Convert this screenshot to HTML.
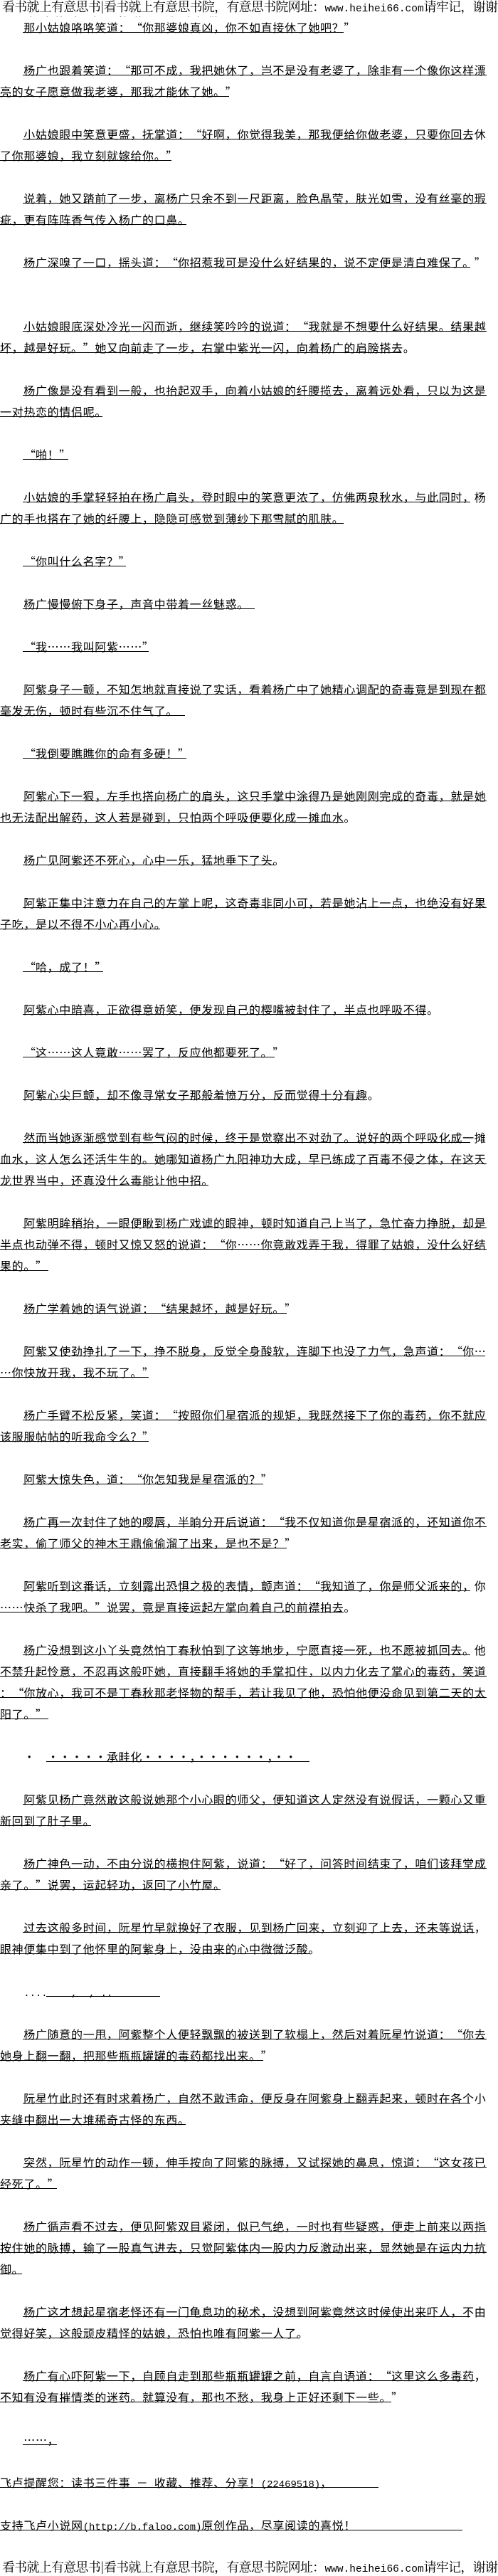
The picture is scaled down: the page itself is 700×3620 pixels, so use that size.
<!DOCTYPE html>
<html lang="zh"><head><meta charset="utf-8"><style>
html,body{margin:0;padding:0;background:#fff}
body{width:700px;height:3620px;position:relative;overflow:hidden;color:#000;font-family:"WenQuanYi Zen Hei","Noto Sans CJK SC",sans-serif;font-size:16px;letter-spacing:.67px}
p{position:absolute;left:0;width:700px;margin:-17px 0 0;height:20px;line-height:20px;white-space:pre;overflow:visible}
p i{position:absolute;left:0;top:17px;height:1px;background:#000}
p.n{padding-left:33.3px;width:666.7px}
p.n i{background:linear-gradient(90deg,transparent 32px,#000 32px)}
s,u{display:inline-block;width:16.67px;text-decoration:none;letter-spacing:0;line-height:20px;height:20px;vertical-align:top}
s{text-align:right}
u{text-align:left}
tt{font-family:"Liberation Mono",monospace;font-size:13.9px;letter-spacing:0}
.h{position:absolute;left:3px;width:697px;overflow:hidden;height:20px;line-height:20px;white-space:pre;font-family:"Noto Serif CJK SC","WenQuanYi Zen Hei",serif;font-size:18px;letter-spacing:-.75px}
.h b{font-weight:400;font-family:"Liberation Mono",monospace;font-size:14.5px;letter-spacing:0}
.c{position:absolute;left:40px;top:22px;height:2px;width:300px;overflow:hidden;white-space:pre;line-height:20px}
.c span{position:relative;top:-2px;letter-spacing:2px}
</style></head><body>
<div class="h" style="top:-1px">看书就上有意思书|看书就上有意思书院，有意思书院网址：<b>www.heihei66.com</b>请牢记，谢谢</div>
<div class="c"><span>杨广的手一扬，笑道，不如这般做吧</span></div>
<p class="n" style="top:45px"><i style="width:483px"></i>那小姑娘咯咯笑道：<s>“</s>你那婆娘真凶，你不如直接休了她吧？<u>”</u></p>
<p class="n" style="top:105px"><i style="width:684px"></i>杨广也跟着笑道：<s>“</s>那可不成，我把她休了，岂不是没有老婆了，除非有一个像你这样漂</p>
<p style="top:135px"><i style="width:322px"></i>亮的女子愿意做我老婆，那我才能休了她。<u>”</u></p>
<p class="n" style="top:195px"><i style="width:663px"></i>小姑娘眼中笑意更盛，抚掌道：<s>“</s>好啊，你觉得我美，那我便给你做老婆，只要你回去休</p>
<p style="top:225px"><i style="width:241px"></i>了你那婆娘，我立刻就嫁给你。<u>”</u></p>
<p class="n" style="top:285px"><i style="width:684px"></i>说着，她又踏前了一步，离杨广只余不到一尺距离，脸色晶莹，肤光如雪，没有丝毫的瑕</p>
<p style="top:315px"><i style="width:262px"></i>疵，更有阵阵香气传入杨广的口鼻。</p>
<p class="n" style="top:375px"><i style="width:661px"></i>杨广深嗅了一口，摇头道：<s>“</s>你招惹我可是没什么好结果的，说不定便是清白难保了。<u>”</u></p>
<p class="n" style="top:465px"><i style="width:684px"></i>小姑娘眼底深处冷光一闪而逝，继续笑吟吟的说道：<s>“</s>我就是不想要什么好结果。结果越</p>
<p style="top:495px"><i style="width:564px"></i>坏，越是好玩。<u>”</u>她又向前走了一步，右掌中紫光一闪，向着杨广的肩膀搭去。</p>
<p class="n" style="top:555px"><i style="width:684px"></i>杨广像是没有看到一般，也抬起双手，向着小姑娘的纤腰揽去，离着远处看，只以为这是</p>
<p style="top:585px"><i style="width:144px"></i>一对热恋的情侣呢。</p>
<p class="n" style="top:645px"><i style="width:96px"></i><s>“</s>啪！<u>”</u></p>
<p class="n" style="top:705px"><i style="width:661px"></i>小姑娘的手掌轻轻拍在杨广肩头，登时眼中的笑意更浓了，仿佛两泉秋水，与此同时，杨</p>
<p style="top:735px"><i style="width:483px"></i>广的手也搭在了她的纤腰上，隐隐可感觉到薄纱下那雪腻的肌肤。</p>
<p class="n" style="top:795px"><i style="width:177px"></i><s>“</s>你叫什么名字？<u>”</u></p>
<p class="n" style="top:855px"><i style="width:358px"></i>杨广慢慢俯下身子，声音中带着一丝魅惑。</p>
<p class="n" style="top:915px"><i style="width:209px"></i><s>“</s>我……我叫阿紫……<u>”</u></p>
<p class="n" style="top:975px"><i style="width:684px"></i>阿紫身子一颤，不知怎地就直接说了实话，看着杨广中了她精心调配的奇毒竟是到现在都</p>
<p style="top:1005px"><i style="width:260px"></i>毫发无伤，顿时有些沉不住气了。</p>
<p class="n" style="top:1065px"><i style="width:262px"></i><s>“</s>我倒要瞧瞧你的命有多硬！<u>”</u></p>
<p class="n" style="top:1125px"><i style="width:684px"></i>阿紫心下一狠，左手也搭向杨广的肩头，这只手掌中涂得乃是她刚刚完成的奇毒，就是她</p>
<p style="top:1155px"><i style="width:483px"></i>也无法配出解药，这人若是碰到，只怕两个呼吸便要化成一摊血水。</p>
<p class="n" style="top:1215px"><i style="width:385px"></i>杨广见阿紫还不死心，心中一乐，猛地垂下了头。</p>
<p class="n" style="top:1275px"><i style="width:684px"></i>阿紫正集中注意力在自己的左掌上呢，这奇毒非同小可，若是她沾上一点，也绝没有好果</p>
<p style="top:1305px"><i style="width:225px"></i>子吃，是以不得不小心再小心。</p>
<p class="n" style="top:1365px"><i style="width:145px"></i><s>“</s>哈，成了！<u>”</u></p>
<p class="n" style="top:1425px"><i style="width:599px"></i>阿紫心中暗喜，正欲得意娇笑，便发现自己的樱嘴被封住了，半点也呼吸不得。</p>
<p class="n" style="top:1485px"><i style="width:386px"></i><s>“</s>这……这人竟敢……罢了，反应他都要死了。<u>”</u></p>
<p class="n" style="top:1545px"><i style="width:516px"></i>阿紫心尖巨颤，却不像寻常女子那般羞愤万分，反而觉得十分有趣。</p>
<p class="n" style="top:1605px"><i style="width:661px"></i>然而当她逐渐感觉到有些气闷的时候，终于是觉察出不对劲了。说好的两个呼吸化成一摊</p>
<p style="top:1635px"><i style="width:684px"></i>血水，这人怎么还活生生的。她哪知道杨广九阳神功大成，早已练成了百毒不侵之体，在这天</p>
<p style="top:1665px"><i style="width:293px"></i>龙世界当中，还真没什么毒能让他中招。</p>
<p class="n" style="top:1725px"><i style="width:684px"></i>阿紫明眸稍抬，一眼便瞅到杨广戏谑的眼神，顿时知道自己上当了，急忙奋力挣脱，却是</p>
<p style="top:1755px"><i style="width:684px"></i>半点也动弹不得，顿时又惊又怒的说道：<s>“</s>你……你竟敢戏弄于我，得罪了姑娘，没什么好结</p>
<p style="top:1785px"><i style="width:68px"></i>果的。<u>”</u></p>
<p class="n" style="top:1845px"><i style="width:403px"></i>杨广学着她的语气说道：<s>“</s>结果越坏，越是好玩。<u>”</u></p>
<p class="n" style="top:1905px"><i style="width:682px"></i>阿紫又使劲挣扎了一下，挣不脱身，反觉全身酸软，连脚下也没了力气，急声道：<s>“</s>你…</p>
<p style="top:1935px"><i style="width:209px"></i>…你快放开我，我不玩了。<u>”</u></p>
<p class="n" style="top:1995px"><i style="width:684px"></i>杨广手臂不松反紧，笑道：<s>“</s>按照你们星宿派的规矩，我既然接下了你的毒药，你不就应</p>
<p style="top:2025px"><i style="width:209px"></i>该服服帖帖的听我命令么？<u>”</u></p>
<p class="n" style="top:2085px"><i style="width:370px"></i>阿紫大惊失色，道：<s>“</s>你怎知我是星宿派的？<u>”</u></p>
<p class="n" style="top:2145px"><i style="width:684px"></i>杨广再一次封住了她的嘤唇，半晌分开后说道：<s>“</s>我不仅知道你是星宿派的，还知道你不</p>
<p style="top:2175px"><i style="width:403px"></i>老实，偷了师父的神木王鼎偷偷溜了出来，是也不是？<u>”</u></p>
<p class="n" style="top:2235px"><i style="width:661px"></i>阿紫听到这番话，立刻露出恐惧之极的表情，颤声道：<s>“</s>我知道了，你是师父派来的，你</p>
<p style="top:2265px"><i style="width:483px"></i>……快杀了我吧。<u>”</u>说罢，竟是直接运起左掌向着自己的前襟拍去。</p>
<p class="n" style="top:2325px"><i style="width:661px"></i>杨广没想到这小丫头竟然怕丁春秋怕到了这等地步，宁愿直接一死，也不愿被抓回去。他</p>
<p style="top:2355px"><i style="width:684px"></i>不禁升起怜意，不忍再这般吓她，直接翻手将她的手掌扣住，以内力化去了掌心的毒药，笑道</p>
<p style="top:2385px"><i style="width:684px"></i>：<s>“</s>你放心，我可不是丁春秋那老怪物的帮手，若让我见了他，恐怕他便没命见到第二天的太</p>
<p style="top:2415px"><i style="width:68px"></i>阳了。<u>”</u></p>
<p class="n" style="top:2475px"><i style="width:435px;background:linear-gradient(90deg,transparent 65px,#000 65px)"></i>・　・・・・・承畦化・・・・，・・・・・・，・・</p>
<p class="n" style="top:2535px"><i style="width:684px"></i>阿紫见杨广竟然敢这般说她那个小心眼的师父，便知道这人定然没有说假话，一颗心又重</p>
<p style="top:2565px"><i style="width:128px"></i>新回到了肚子里。</p>
<p class="n" style="top:2625px"><i style="width:684px"></i>杨广神色一动，不由分说的横抱住阿紫，说道：<s>“</s>好了，问答时间结束了，咱们该拜堂成</p>
<p style="top:2655px"><i style="width:310px"></i>亲了。<u>”</u>说罢，运起轻功，返回了小竹屋。</p>
<p class="n" style="top:2715px"><i style="width:667px"></i>过去这般多时间，阮星竹早就换好了衣服，见到杨广回来，立刻迎了上去，还未等说话，</p>
<p style="top:2745px"><i style="width:435px"></i>眼神便集中到了他怀里的阿紫身上，没由来的心中微微泛酸。</p>
<p class="n" style="top:2805px"><i style="width:225px;background:linear-gradient(90deg,transparent 65px,#000 65px)"></i><tt>....    ,  , ..</tt></p>
<p class="n" style="top:2865px"><i style="width:684px"></i>杨广随意的一甩，阿紫整个人便轻飘飘的被送到了软榻上，然后对着阮星竹说道：<s>“</s>你去</p>
<p style="top:2895px"><i style="width:370px"></i>她身上翻一翻，把那些瓶瓶罐罐的毒药都找出来。<u>”</u></p>
<p class="n" style="top:2955px"><i style="width:661px"></i>阮星竹此时还有时求着杨广，自然不敢违命，便反身在阿紫身上翻弄起来，顿时在各个小</p>
<p style="top:2985px"><i style="width:261px"></i>夹缝中翻出一大堆稀奇古怪的东西。</p>
<p class="n" style="top:3045px"><i style="width:684px"></i>突然，阮星竹的动作一顿，伸手按向了阿紫的脉搏，又试探她的鼻息，惊道：<s>“</s>这女孩已</p>
<p style="top:3075px"><i style="width:80px"></i>经死了。<u>”</u></p>
<p class="n" style="top:3135px"><i style="width:684px"></i>杨广循声看不过去，便见阿紫双目紧闭，似已气绝，一时也有些疑惑，便走上前来以两指</p>
<p style="top:3165px"><i style="width:684px"></i>按住她的脉搏，输了一股真气进去，只觉阿紫体内一股内力反激动出来，显然她是在运内力抗</p>
<p style="top:3195px"><i style="width:31px"></i>御。</p>
<p class="n" style="top:3255px"><i style="width:661px"></i>杨广这才想起星宿老怪还有一门龟息功的秘术，没想到阿紫竟然这时候使出来吓人，不由</p>
<p style="top:3285px"><i style="width:419px"></i>觉得好笑，这般顽皮精怪的姑娘，恐怕也唯有阿紫一人了。</p>
<p class="n" style="top:3345px"><i style="width:667px"></i>杨广有心吓阿紫一下，自顾自走到那些瓶瓶罐罐之前，自言自语道：<s>“</s>这里这么多毒药，</p>
<p style="top:3375px"><i style="width:550px"></i>不知有没有摧情类的迷药。就算没有，那也不愁，我身上正好还剩下一些。<u>”</u></p>
<p class="n" style="top:3435px"><i style="width:80px"></i>……，</p>
<p style="top:3495px"><i style="width:532px"></i>飞卢提醒您：读书三件事<tt> </tt>－<tt> </tt>收藏、推荐、分享！<tt>(22469518)</tt>，</p>
<p style="top:3555px"><i style="width:650px"></i>支持飞卢小说网<tt>(http://b.faloo.com)</tt>原创作品，尽享阅读的喜悦！</p>
<div class="h" style="top:3597px">看书就上有意思书|看书就上有意思书院，有意思书院网址：<b>www.heihei66.com</b>请牢记，谢谢</div>
</body></html>
